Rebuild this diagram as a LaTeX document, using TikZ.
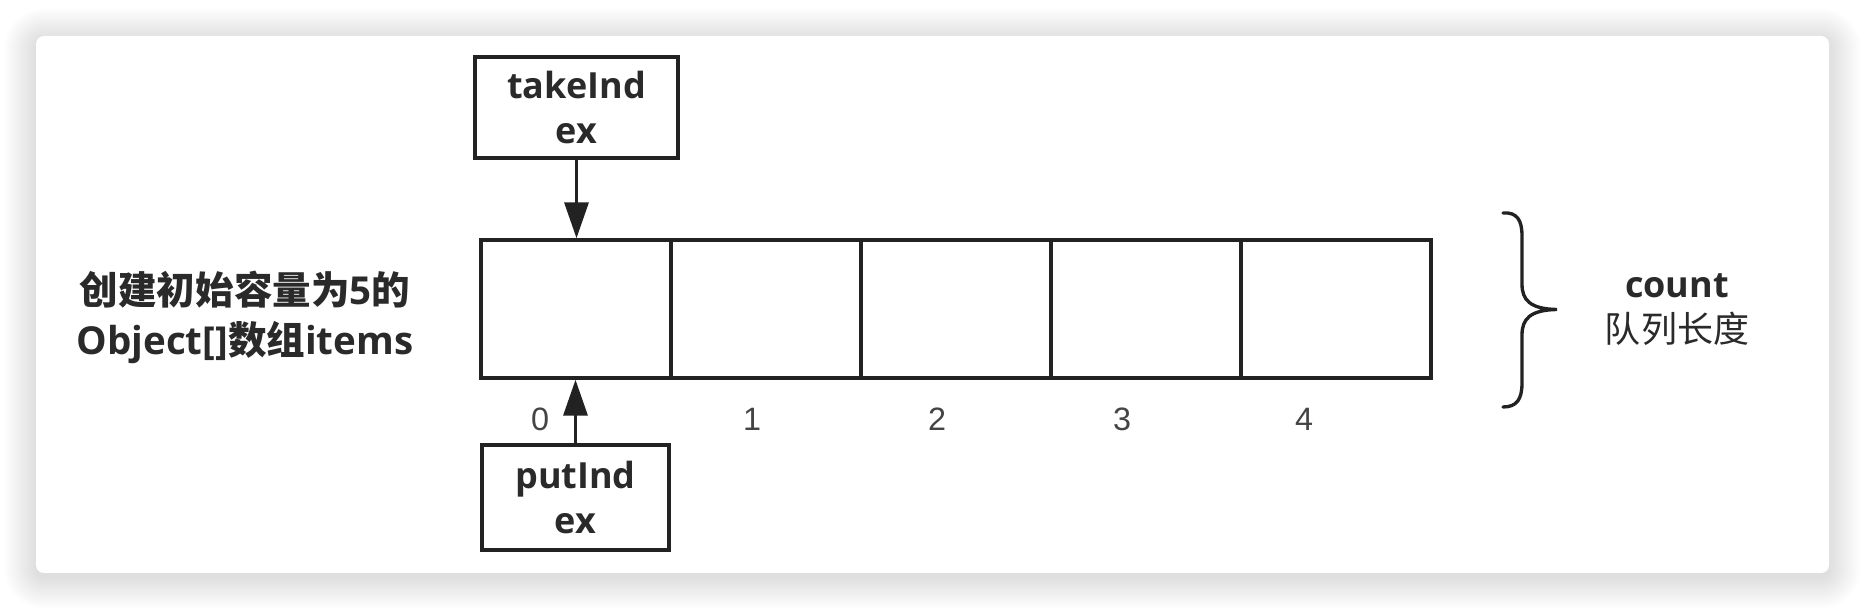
\documentclass[tikz,border=0pt]{standalone}
\usepackage{fontspec}
\setmainfont{Open Sans}
\newfontfamily\cjk{Noto Sans CJK SC}
\newfontfamily\digits{Liberation Sans}
\usetikzlibrary{arrows.meta}
\definecolor{ink}{HTML}{222222}
\definecolor{txt}{HTML}{2A2A2A}
\definecolor{digit}{HTML}{444444}
\begin{document}
\begin{tikzpicture}[x=0.01cm,y=-0.01cm,
  cell/.style={draw=ink,line width=0.95pt,minimum width=1.9cm,minimum height=1.38cm,inner sep=0pt},
  ptrbox/.style={draw=ink,line width=0.95pt,inner sep=0pt,align=center,text=txt,
    font=\bfseries\fontsize{10.24pt}{12.8pt}\selectfont},
  idx/.style={text=digit,inner sep=0pt,font=\digits\fontsize{9.2pt}{11pt}\selectfont},
  arr/.style={draw=ink,line width=0.95pt,-{Triangle[length=3.6mm,width=2.4mm]}},
  lbl/.style={align=center,text=txt,inner sep=0pt}]
\useasboundingbox (0,0) rectangle (1866,610);
\fill[white] (0,0) rectangle (1866,610);
% shadow
\foreach \i in {1,...,32}{
  \pgfmathsetmacro\rr{0.08+0.01*\i}
  \fill[black,opacity=0.0058,rounded corners=\rr cm] (36-\i,36-\i+4) rectangle (1829+\i,573+\i+4);
}
\fill[white,rounded corners=0.08cm] (36,36) rectangle (1829,573);
% array cells
\node[cell] (c0) at (576,309) {};
\node[cell] (c1) at (766,309) {};
\node[cell] (c2) at (956,309) {};
\node[cell] (c3) at (1146,309) {};
\node[cell] (c4) at (1336,309) {};
% index labels
\node[idx] (i0) at (540,419) {0};
\node[idx] (i1) at (752,419) {1};
\node[idx] (i2) at (937,419) {2};
\node[idx] (i3) at (1122,419) {3};
\node[idx] (i4) at (1304,419) {4};
% pointer boxes
\node[ptrbox,minimum width=2.03cm,minimum height=1.01cm] (take) at (576.5,107.5) {takeInd\\ex};
\node[ptrbox,minimum width=1.87cm,minimum height=1.05cm] (put) at (575.5,497.5) {putInd\\ex};
\draw[arr] (take.south) -- (take.south |- c0.north);
\draw[arr] (put.north) -- (put.north |- c0.south);
% left label
\node[lbl,font=\bfseries\fontsize{10.95pt}{14.2pt}\selectfont] (desc) at (245,317)
  {{\cjk\bfseries 创建初始容量为}5{\cjk\bfseries 的}\\Object[]{\cjk\bfseries 数组}items};
% brace
\draw[ink,line width=0.95pt,line cap=round]
  (1503,213) .. controls (1517,212) and (1522,220) .. (1522,236)
  -- (1522,284) .. controls (1522,300) and (1530,309) .. (1557,309.5)
  .. controls (1530,310) and (1522,319) .. (1522,335)
  -- (1522,383) .. controls (1522,399) and (1517,407) .. (1503,407);
% right label
\node[lbl,font=\fontsize{10.24pt}{12.8pt}\selectfont] (cnt) at (1677,310)
  {\bfseries count\\{\cjk 队列长度}};
\end{tikzpicture}
\end{document}
